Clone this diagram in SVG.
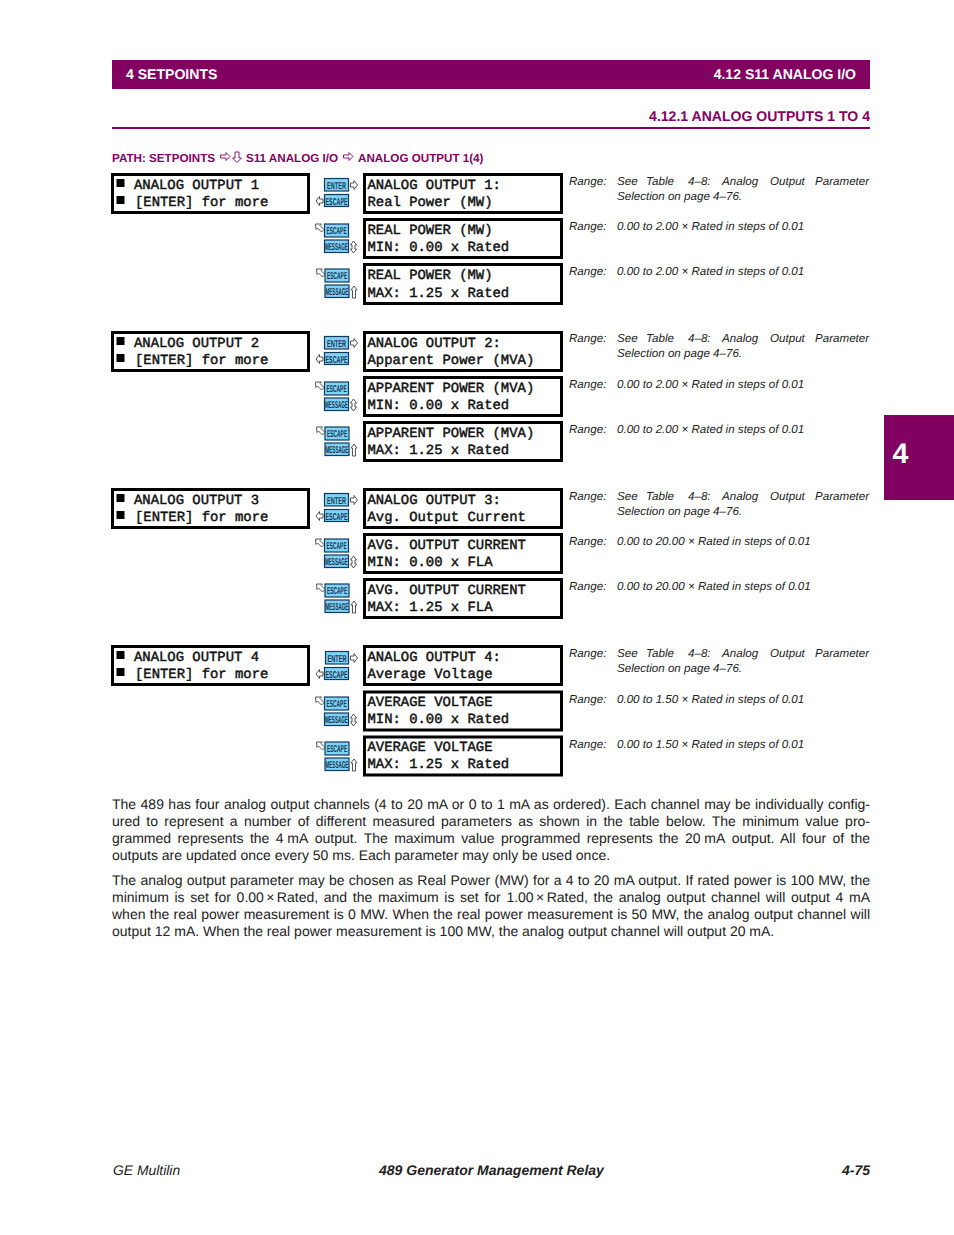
<svg xmlns="http://www.w3.org/2000/svg" xmlns:xlink="http://www.w3.org/1999/xlink" width="954" height="1235" viewBox="0 0 954 1235" text-rendering="geometricPrecision">
<style>
text{font-family:"Liberation Sans",Arial,sans-serif}
.band{fill:#820060}
.hw{font-weight:700;font-size:14.05px;fill:#fff}
.hp{font-weight:700;font-size:14.05px;fill:#820060}
.path{font-weight:700;font-size:11.65px;fill:#820060}
.box{fill:#fff;stroke:#000;stroke-width:3}
.mono{font-family:"Liberation Mono","Courier New",monospace;font-weight:400;font-size:13.9px;fill:#111;stroke:#111;stroke-width:.45}
.key rect{fill:#7fd2f7;stroke:#123a5a;stroke-width:1.2}
.key text{font-weight:700;font-size:10px;fill:#17324f}
.ar{fill:#fff;stroke:#555;stroke-width:1}
.par{fill:#fff;stroke:#820060;stroke-width:.9}
.rng{font-style:italic;font-size:11.6px;fill:#222}
.body{font-size:14px;fill:#222}
.foot{font-style:italic;font-size:13.9px;fill:#222}
.footb{font-style:italic;font-weight:700;font-size:14px;fill:#222}
</style>
<defs>
<g id="arrows">
<path class="ar" d="M350.5 183h3.500v-2.500l3.500 4.500-3.500 4.500v-2.500h-3.500z"/>
<path class="ar" d="M323 199h-3.500v-2.500l-3.500 4.500 3.500 4.500v-2.500h3.500z"/>
<path class="ar" d="M315.500 224h6l-1.500 1.500 4 4-2.500 2.500-4-4-1.500 1.500z"/>
<path class="ar" d="M353.500 241l3 4h-1.500v4h1.500l-3 4-3-4h1.500v-4h-1.500z"/>
<path class="ar" d="M316.500 269h6l-1.500 1.500 4 4-2.500 2.500-4-4-1.500 1.500z"/>
<path class="ar" d="M354 286l3 4h-1.500v8h-3v-8h-1.500z"/>
</g>
</defs>
<rect width="954" height="1235" fill="#fff"/>
<rect class="band" x="112" y="60" width="758" height="29"/>
<text class="hw" x="126" y="79">4 SETPOINTS</text>
<text class="hw" x="856" y="79" text-anchor="end">4.12 S11 ANALOG I/O</text>
<text class="hp" x="870" y="121" text-anchor="end">4.12.1 ANALOG OUTPUTS 1 TO 4</text>
<rect class="band" x="112" y="127" width="758" height="2"/>
<text class="path" x="112" y="162">PATH: SETPOINTS</text>
<path class="par" d="M220.500 155h5.500v-2.500l4 4-4 4v-2.500h-5.500z"/>
<path class="par" d="M235 152h4v6h2.500l-4.500 4.500-4.500-4.500h2.500z"/>
<text class="path" x="246" y="162">S11 ANALOG I/O</text>
<path class="par" d="M343.500 155h5.500v-2.500l4 4-4 4v-2.500h-5.500z"/>
<text class="path" x="358" y="162">ANALOG OUTPUT 1(4)</text>

<g id="connectors">
<use href="#arrows" xlink:href="#arrows"/>
<use href="#arrows" xlink:href="#arrows" y="158"/>
<use href="#arrows" xlink:href="#arrows" y="315"/>
<use href="#arrows" xlink:href="#arrows" y="473"/>
</g>

<g id="menu-1" transform="translate(112.500,174.500)"><rect class="box" width="196" height="38"/><rect x="4" y="4.500" width="8" height="8"/><rect x="4" y="21.500" width="8" height="8"/><text class="mono" x="21.500" y="14">ANALOG OUTPUT 1</text><text class="mono" x="22.500" y="31">[ENTER] for more</text></g>
<g id="menu-2" transform="translate(112.500,332.500)"><rect class="box" width="196" height="38"/><rect x="4" y="4.500" width="8" height="8"/><rect x="4" y="21.500" width="8" height="8"/><text class="mono" x="21.500" y="14">ANALOG OUTPUT 2</text><text class="mono" x="22.500" y="31">[ENTER] for more</text></g>
<g id="menu-3" transform="translate(112.500,489.500)"><rect class="box" width="196" height="38"/><rect x="4" y="4.500" width="8" height="8"/><rect x="4" y="21.500" width="8" height="8"/><text class="mono" x="21.500" y="14">ANALOG OUTPUT 3</text><text class="mono" x="22.500" y="31">[ENTER] for more</text></g>
<g id="menu-4" transform="translate(112.500,646.500)"><rect class="box" width="196" height="38"/><rect x="4" y="4.500" width="8" height="8"/><rect x="4" y="21.500" width="8" height="8"/><text class="mono" x="21.500" y="14">ANALOG OUTPUT 4</text><text class="mono" x="22.500" y="31">[ENTER] for more</text></g>

<g id="box-1-1" transform="translate(364.500,174.500)"><rect class="box" width="197" height="38"/><text class="mono" x="3" y="14">ANALOG OUTPUT 1:</text><text class="mono" x="3" y="31">Real Power (MW)</text></g>
<g id="box-1-2" transform="translate(364.500,219.500)"><rect class="box" width="197" height="38"/><text class="mono" x="3" y="14">REAL POWER (MW)</text><text class="mono" x="3" y="31">MIN: 0.00 x Rated</text></g>
<g id="box-1-3" transform="translate(364.500,264.500)"><rect class="box" width="197" height="39"/><text class="mono" x="3" y="14">REAL POWER (MW)</text><text class="mono" x="3" y="32">MAX: 1.25 x Rated</text></g>
<g id="box-2-1" transform="translate(364.500,332.500)"><rect class="box" width="197" height="38"/><text class="mono" x="3" y="14">ANALOG OUTPUT 2:</text><text class="mono" x="3" y="31">Apparent Power (MVA)</text></g>
<g id="box-2-2" transform="translate(364.500,377.500)"><rect class="box" width="197" height="38"/><text class="mono" x="3" y="14">APPARENT POWER (MVA)</text><text class="mono" x="3" y="31">MIN: 0.00 x Rated</text></g>
<g id="box-2-3" transform="translate(364.500,422.500)"><rect class="box" width="197" height="38"/><text class="mono" x="3" y="14">APPARENT POWER (MVA)</text><text class="mono" x="3" y="31">MAX: 1.25 x Rated</text></g>
<g id="box-3-1" transform="translate(364.500,489.500)"><rect class="box" width="197" height="38"/><text class="mono" x="3" y="14">ANALOG OUTPUT 3:</text><text class="mono" x="3" y="31">Avg. Output Current</text></g>
<g id="box-3-2" transform="translate(364.500,534.500)"><rect class="box" width="197" height="38"/><text class="mono" x="3" y="14">AVG. OUTPUT CURRENT</text><text class="mono" x="3" y="31">MIN: 0.00 x FLA</text></g>
<g id="box-3-3" transform="translate(364.500,579.500)"><rect class="box" width="197" height="38"/><text class="mono" x="3" y="14">AVG. OUTPUT CURRENT</text><text class="mono" x="3" y="31">MAX: 1.25 x FLA</text></g>
<g id="box-4-1" transform="translate(364.500,646.500)"><rect class="box" width="197" height="38"/><text class="mono" x="3" y="14">ANALOG OUTPUT 4:</text><text class="mono" x="3" y="31">Average Voltage</text></g>
<g id="box-4-2" transform="translate(364.500,692)"><rect class="box" width="197" height="38"/><text class="mono" x="3" y="14">AVERAGE VOLTAGE</text><text class="mono" x="3" y="31">MIN: 0.00 x Rated</text></g>
<g id="box-4-3" transform="translate(364.500,737)"><rect class="box" width="197" height="38"/><text class="mono" x="3" y="14">AVERAGE VOLTAGE</text><text class="mono" x="3" y="31">MAX: 1.25 x Rated</text></g>

<g id="keys-1" transform="translate(0,-0.500)">
<g class="key" transform="translate(324.500,179)"><rect width="24" height="12.500"/><text transform="translate(2.500,10) scale(.56,1)">ENTER</text></g>
<g class="key" transform="translate(324.500,195)"><rect width="24" height="12"/><text transform="translate(1,10) scale(.54,1)">ESCAPE</text></g>
<g class="key" transform="translate(324.500,224.500)"><rect width="24" height="13"/><text transform="translate(2,10) scale(.49,1)">ESCAPE</text></g>
<g class="key" transform="translate(324.500,240.500)"><rect width="24" height="12.500"/><text transform="translate(.5,10) scale(.458,1)">MESSAGE</text></g>
<g class="key" transform="translate(325,269.500)"><rect width="24" height="13"/><text transform="translate(2,10) scale(.49,1)">ESCAPE</text></g>
<g class="key" transform="translate(325,285.500)"><rect width="24" height="12.500"/><text transform="translate(.5,10) scale(.458,1)">MESSAGE</text></g>
</g>
<g id="keys-2" transform="translate(0,157.500)">
<g class="key" transform="translate(324.500,179)"><rect width="24" height="12.500"/><text transform="translate(2.500,10) scale(.56,1)">ENTER</text></g>
<g class="key" transform="translate(324.500,195)"><rect width="24" height="12"/><text transform="translate(1,10) scale(.54,1)">ESCAPE</text></g>
<g class="key" transform="translate(324.500,224.500)"><rect width="24" height="13"/><text transform="translate(2,10) scale(.49,1)">ESCAPE</text></g>
<g class="key" transform="translate(324.500,240.500)"><rect width="24" height="12.500"/><text transform="translate(.5,10) scale(.458,1)">MESSAGE</text></g>
<g class="key" transform="translate(325,269.500)"><rect width="24" height="13"/><text transform="translate(2,10) scale(.49,1)">ESCAPE</text></g>
<g class="key" transform="translate(325,285.500)"><rect width="24" height="12.500"/><text transform="translate(.5,10) scale(.458,1)">MESSAGE</text></g>
</g>
<g id="keys-3" transform="translate(0,314.500)">
<g class="key" transform="translate(324.500,179)"><rect width="24" height="12.500"/><text transform="translate(2.500,10) scale(.56,1)">ENTER</text></g>
<g class="key" transform="translate(324.500,195)"><rect width="24" height="12"/><text transform="translate(1,10) scale(.54,1)">ESCAPE</text></g>
<g class="key" transform="translate(324.500,224.500)"><rect width="24" height="13"/><text transform="translate(2,10) scale(.49,1)">ESCAPE</text></g>
<g class="key" transform="translate(324.500,240.500)"><rect width="24" height="12.500"/><text transform="translate(.5,10) scale(.458,1)">MESSAGE</text></g>
<g class="key" transform="translate(325,269.500)"><rect width="24" height="13"/><text transform="translate(2,10) scale(.49,1)">ESCAPE</text></g>
<g class="key" transform="translate(325,285.500)"><rect width="24" height="12.500"/><text transform="translate(.5,10) scale(.458,1)">MESSAGE</text></g>
</g>
<g id="keys-4" transform="translate(0,472.500)">
<g class="key" transform="translate(325.500,179)"><rect width="23" height="12.500"/><text transform="translate(2,10) scale(.56,1)">ENTER</text></g>
<g class="key" transform="translate(324.500,195)"><rect width="24" height="12"/><text transform="translate(1,10) scale(.54,1)">ESCAPE</text></g>
<g class="key" transform="translate(324.500,224.500)"><rect width="24" height="13"/><text transform="translate(2,10) scale(.49,1)">ESCAPE</text></g>
<g class="key" transform="translate(324.500,240.500)"><rect width="24" height="12.500"/><text transform="translate(.5,10) scale(.458,1)">MESSAGE</text></g>
<g class="key" transform="translate(325,269.500)"><rect width="24" height="13"/><text transform="translate(2,10) scale(.49,1)">ESCAPE</text></g>
<g class="key" transform="translate(325,285.500)"><rect width="24" height="12.500"/><text transform="translate(.5,10) scale(.458,1)">MESSAGE</text></g>
</g>

<g id="ranges">
<text class="rng" y="185"><tspan x="569">Range:</tspan><tspan x="617">See</tspan><tspan x="646">Table</tspan><tspan x="688">4–8:</tspan><tspan x="722">Analog</tspan><tspan x="770">Output</tspan><tspan x="815">Parameter</tspan></text>
<text class="rng" x="617" y="200">Selection on page 4–76.</text>
<text class="rng" y="230"><tspan x="569">Range:</tspan><tspan x="617">0.00 to 2.00 × Rated in steps of 0.01</tspan></text>
<text class="rng" y="275"><tspan x="569">Range:</tspan><tspan x="617">0.00 to 2.00 × Rated in steps of 0.01</tspan></text>
<text class="rng" y="342"><tspan x="569">Range:</tspan><tspan x="617">See</tspan><tspan x="646">Table</tspan><tspan x="688">4–8:</tspan><tspan x="722">Analog</tspan><tspan x="770">Output</tspan><tspan x="815">Parameter</tspan></text>
<text class="rng" x="617" y="357">Selection on page 4–76.</text>
<text class="rng" y="388"><tspan x="569">Range:</tspan><tspan x="617">0.00 to 2.00 × Rated in steps of 0.01</tspan></text>
<text class="rng" y="433"><tspan x="569">Range:</tspan><tspan x="617">0.00 to 2.00 × Rated in steps of 0.01</tspan></text>
<text class="rng" y="500"><tspan x="569">Range:</tspan><tspan x="617">See</tspan><tspan x="646">Table</tspan><tspan x="688">4–8:</tspan><tspan x="722">Analog</tspan><tspan x="770">Output</tspan><tspan x="815">Parameter</tspan></text>
<text class="rng" x="617" y="515">Selection on page 4–76.</text>
<text class="rng" y="545"><tspan x="569">Range:</tspan><tspan x="617">0.00 to 20.00 × Rated in steps of 0.01</tspan></text>
<text class="rng" y="590"><tspan x="569">Range:</tspan><tspan x="617">0.00 to 20.00 × Rated in steps of 0.01</tspan></text>
<text class="rng" y="657"><tspan x="569">Range:</tspan><tspan x="617">See</tspan><tspan x="646">Table</tspan><tspan x="688">4–8:</tspan><tspan x="722">Analog</tspan><tspan x="770">Output</tspan><tspan x="815">Parameter</tspan></text>
<text class="rng" x="617" y="672">Selection on page 4–76.</text>
<text class="rng" y="703"><tspan x="569">Range:</tspan><tspan x="617">0.00 to 1.50 × Rated in steps of 0.01</tspan></text>
<text class="rng" y="748"><tspan x="569">Range:</tspan><tspan x="617">0.00 to 1.50 × Rated in steps of 0.01</tspan></text>
</g>

<g id="body">
<text class="body" x="112" y="809" word-spacing=".52" textLength="758">The 489 has four analog output channels (4 to 20 mA or 0 to 1 mA as ordered). Each channel may be individually config-</text>
<text class="body" x="112" y="826" word-spacing="2.44" textLength="758">ured to represent a number of different measured parameters as shown in the table below. The minimum value pro-</text>
<text class="body" x="112" y="843" word-spacing="2.56" textLength="758">grammed represents the <tspan word-spacing="0">4 mA</tspan> output. The maximum value programmed represents the <tspan word-spacing="0">20 mA</tspan> output. All four of the</text>
<text class="body" x="112" y="860">outputs are updated once every 50 ms. Each parameter may only be used once.</text>
<text class="body" x="112" y="885" word-spacing=".42" textLength="758">The analog output parameter may be chosen as Real Power (MW) for a 4 to 20 mA output. If rated power is 100 MW, the</text>
<text class="body" x="112" y="902" word-spacing="1.75" textLength="758">minimum is set for <tspan word-spacing="-1.5">0.00 × Rated,</tspan> and the maximum is set for <tspan word-spacing="-1.5">1.00 × Rated,</tspan> the analog output channel will output 4 mA</text>
<text class="body" x="112" y="919" word-spacing=".4" textLength="758">when the real power measurement is 0 MW. When the real power measurement is 50 MW, the analog output channel will</text>
<text class="body" x="112" y="936">output 12 mA. When the real power measurement is 100 MW, the analog output channel will output 20 mA.</text>
</g>

<rect class="band" x="884" y="415" width="70" height="85"/>
<text x="892.500" y="462.500" font-size="28.500" font-weight="700" fill="#fff">4</text>

<text class="foot" x="113" y="1175">GE Multilin</text>
<text class="footb" x="379" y="1175">489 Generator Management Relay</text>
<text class="footb" x="870" y="1175" text-anchor="end">4-75</text>
</svg>
